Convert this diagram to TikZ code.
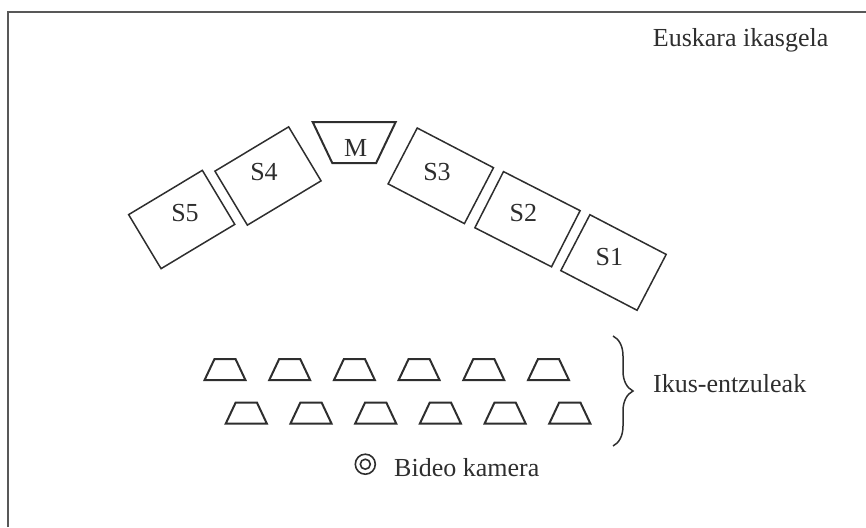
\documentclass[tikz,border=0pt]{standalone}
\usepackage{fontspec}
\setmainfont{Liberation Serif}
\usetikzlibrary{shapes.geometric,decorations.pathreplacing,positioning}
\definecolor{ink}{gray}{0.18}
\tikzset{
    desk/.style={draw=ink,line width=1.5pt,minimum width=86pt,minimum height=63pt,inner sep=0pt},
    seat/.style={trapezium,trapezium angle=65,trapezium stretches=true,draw=ink,line width=2pt,minimum width=41pt,minimum height=21pt,inner sep=1pt},
    lbl/.style={text=ink,font=\fontsize{26}{30}\selectfont,inner sep=0pt,anchor=base}
}

\begin{document}
\begin{tikzpicture}[x=1pt,y=-1pt]
\useasboundingbox (0,0) rectangle (866,527);
\draw[ink!80,line width=2pt] (8.3,527) |- (866,11.8);
\node[lbl,anchor=base west] (room) at (652.7,46.7) {Euskara ikasgela};
\node[trapezium,trapezium angle=66,trapezium stretches=true,shape border rotate=180,draw=ink,line width=2pt,minimum width=83pt,minimum height=41pt,inner sep=1pt] (m) at (354.2,142.5) {};
\node[lbl] (mlbl) at (355.8,156.7) {M};
\node[desk,rotate=31] (s5) at (181.7,219.5) {};
\node[desk,rotate=31] (s4) at (268,176) {};
\node[desk,rotate=-27.5] (s3) at (440.8,175.8) {};
\node[desk,rotate=-27] (s2) at (527.5,219.2) {};
\node[desk,rotate=-27.5] (s1) at (613.5,262.5) {};
\node[lbl] (s5lbl) at (185,221.7) {S5};
\node[lbl] (s4lbl) at (264,180) {S4};
\node[lbl] (s3lbl) at (437,180) {S3};
\node[lbl] (s2lbl) at (523.3,221.7) {S2};
\node[lbl] (s1lbl) at (609.3,265.7) {S1};
\foreach \i in {0,...,5} {
    \node[seat] (a\i) at ({225+64.7*\i},369.7) {};
    \node[seat] (b\i) at ({246.3+64.7*\i},413) {};
}
\coordinate (bt) at (613,336);
\coordinate (bb) at (613,446);
\draw[ink,line width=1.5pt,decorate,decoration={brace,amplitude=20pt}] (bt) -- (bb);
\node[lbl,anchor=base west] (aud) at (653,392) {Ikus-entzuleak};
\node[circle,draw=ink,line width=1.6pt,minimum size=20pt,inner sep=0pt] (cam) at (365.3,464.2) {};
\node[circle,draw=ink,line width=1.6pt,minimum size=10pt,inner sep=0pt] (lens) at (cam) {};
\node[lbl,anchor=base west] (camlbl) at (394,476.7) {Bideo kamera};
\end{tikzpicture}
\end{document}
